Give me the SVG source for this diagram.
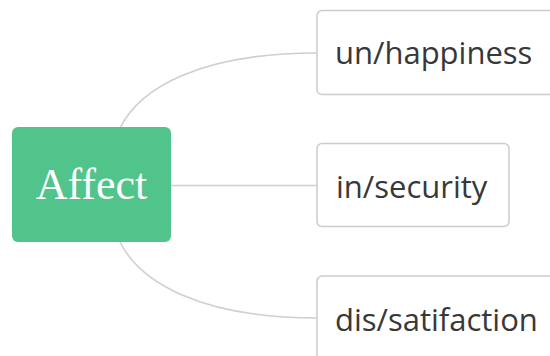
<svg xmlns="http://www.w3.org/2000/svg" width="550" height="356" viewBox="0 0 550 356">
<style>
.conn{fill:none;stroke:#cfcfcf;stroke-width:1.6}
.box{fill:#ffffff;stroke:#cccccc;stroke-width:1.5}
.lbl{font-family:"Open Sans","Noto Sans",sans-serif;font-size:31px;fill:#383838}
.root{fill:#50c48a}
.rootlbl{font-family:"Liberation Serif",serif;font-size:44px;fill:#ffffff}
</style>
<rect width="550" height="356" fill="#ffffff"/>
<g id="connectors">
<path class="conn" d="M120,128 C140,88 200,53 317,53"/>
<path class="conn" d="M170,185.5 L317,185.5"/>
<path class="conn" d="M120,242 C140,282 200,318 317,318"/>
</g>
<g id="node-affect">
<rect class="root" x="12" y="127" width="159" height="115" rx="6"/>
<text class="rootlbl" x="91.5" y="199" text-anchor="middle">Affect</text>
</g>
<g id="node-unhappiness">
<rect class="box" x="317" y="10.5" width="250" height="84" rx="5"/>
<text class="lbl" x="335" y="64">un/happiness</text>
</g>
<g id="node-insecurity">
<rect class="box" x="317" y="143.5" width="192" height="83" rx="5"/>
<text class="lbl" x="336" y="198">in/security</text>
</g>
<g id="node-dissatifaction">
<rect class="box" x="317" y="276" width="250" height="100" rx="5"/>
<text class="lbl" x="335" y="331">dis/satifaction</text>
</g>
</svg>
